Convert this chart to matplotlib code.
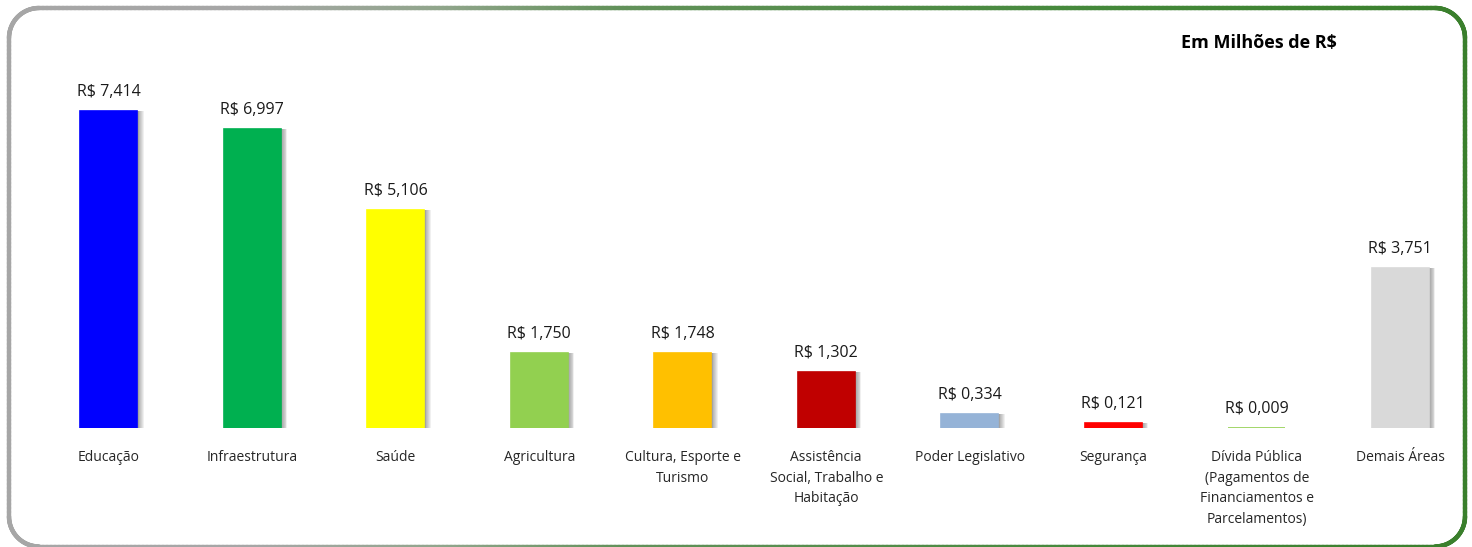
import numpy as np
import matplotlib.pyplot as plt
from matplotlib.collections import LineCollection
from matplotlib.colors import LinearSegmentedColormap

categorias = ["Educação", "Infraestrutura", "Saúde", "Agricultura",
              "Cultura, Esporte e\nTurismo", "Assistência\nSocial, Trabalho e\nHabitação",
              "Poder Legislativo", "Segurança",
              "Dívida Pública\n(Pagamentos de\nFinanciamentos e\nParcelamentos)", "Demais Áreas"]
valores = [7.414, 6.997, 5.106, 1.750, 1.748, 1.302, 0.334, 0.121, 0.009, 3.751]
rotulos = ["R$ 7,414", "R$ 6,997", "R$ 5,106", "R$ 1,750", "R$ 1,748", "R$ 1,302",
           "R$ 0,334", "R$ 0,121", "R$ 0,009", "R$ 3,751"]
cores = ["#0000FF", "#00B050", "#FFFF00", "#92D050", "#FFC000", "#C00000",
         "#95B3D7", "#FF0000", "#92D050", "#D9D9D9"]

plt.rcParams['font.family'] = ['Open Sans', 'DejaVu Sans']

W, H = 1472, 547
fig = plt.figure(figsize=(W / 100, H / 100), dpi=100)

# moldura arredondada em degradê (cinza -> verde), em pixels
bg = fig.add_axes([0, 0, 1, 1])
bg.set_xlim(0, W)
bg.set_ylim(H, 0)
bg.axis("off")
x0, y0, x1, y1, r = 9, 8, 1465, 546.5, 30
t = np.linspace(0, np.pi / 2, 30)
cantos = [
    (x1 - r, y0 + r, -np.pi / 2 + t),        # sup. direito
    (x1 - r, y1 - r, t),                     # inf. direito
    (x0 + r, y1 - r, np.pi / 2 + t),         # inf. esquerdo
    (x0 + r, y0 + r, np.pi + t),             # sup. esquerdo
]
pts = []
for cx, cy, ang in cantos:
    pts.append(np.column_stack([cx + r * np.cos(ang), cy + r * np.sin(ang)]))
pts.append(pts[0][:1])
pts = np.vstack(pts)
dens = []
for a, b in zip(pts[:-1], pts[1:]):
    n = max(2, int(np.hypot(*(b - a)) / 4))
    dens.append(np.linspace(a, b, n, endpoint=False))
dens.append(pts[-1:])
pts = np.vstack(dens)
segs = np.stack([pts[:-1], pts[1:]], axis=1)
cmap = LinearSegmentedColormap.from_list(
    "borda", [(0.0, "#A6A6A6"), (0.17, "#A6A6A6"), (0.30, "#90A58B"),
              (0.42, "#62915A"), (0.75, "#44883A"), (1.0, "#3A7F2C")])
lc = LineCollection(segs, cmap=cmap, linewidths=3.2, capstyle="round")
lc.set_array(segs[:, :, 0].mean(axis=1) / W)
lc.set_clim(0, 1)
bg.add_collection(lc)

ax = fig.add_axes([37 / W, 119 / H, 1435 / W, 342 / H])
x = np.arange(len(categorias))
larg = 0.4

# sombra à direita das barras (não aparece nas barras quase nulas)
sombra = [v if v > 0.05 else 0 for v in valores]
for k in range(7):
    ax.bar(x + 0.008 + k * 0.006, sombra, width=larg, color="black",
           alpha=0.06, zorder=1, linewidth=0)
ax.bar(x, valores, width=larg, color=cores, edgecolor=cores, linewidth=1.2, zorder=2)

for xi, v, rt in zip(x, valores, rotulos):
    ax.text(xi, v + 0.26, rt, ha="center", va="bottom", fontsize=11.5, color="#1a1a1a")

ax.set_xlim(-0.5, len(categorias) - 0.5)
ax.set_ylim(0, 8)
ax.set_xticks(x)
ax.set_xticklabels(categorias, fontsize=10, color="#262626", linespacing=1.5, va="top")
ax.tick_params(axis="x", length=0, pad=16)
ax.set_yticks([])
for s in ax.spines.values():
    s.set_visible(False)
ax.patch.set_alpha(0)

fig.text(1259 / W, 1 - 43 / H, "Em Milhões de R$", ha="center", va="center",
         fontsize=13, fontweight="bold", color="black")

fig.savefig("out.png", dpi=100)
